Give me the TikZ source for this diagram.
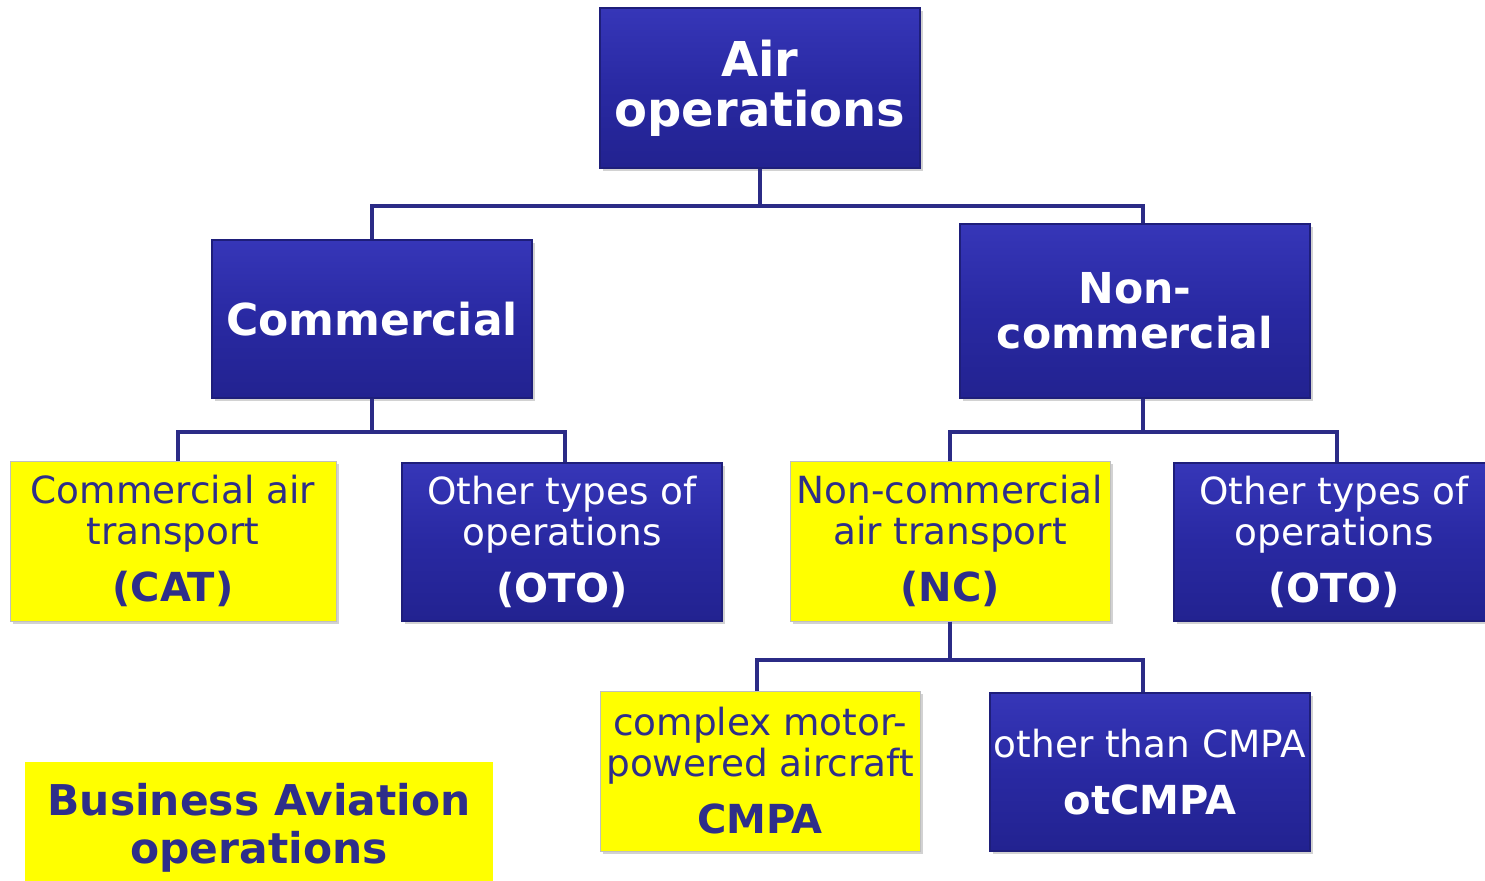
\documentclass[tikz,border=0pt]{standalone}
\usepackage{fontspec}
\setmainfont{DejaVu Sans}
\usetikzlibrary{shadows}

\definecolor{opblue}{HTML}{2929A2}
\definecolor{opdark}{HTML}{222290}
\definecolor{oplight}{HTML}{3636B8}
\definecolor{opedge}{HTML}{1E1E7A}
\definecolor{optext}{HTML}{2E2E8A}
\definecolor{opline}{HTML}{2B2B86}
\definecolor{opyellow}{HTML}{FFFF00}

\tikzset{
  bluebox/.style={draw=opedge, line width=0.6pt, top color=oplight, bottom color=opdark,
    middle color=opblue, text=white, align=center, inner sep=0pt,
    minimum width=160pt, minimum height=79pt,
    drop shadow={shadow xshift=1.5pt, shadow yshift=-1.5pt, opacity=0.35}},
  yellowbox/.style={draw=black!25, line width=0.5pt, fill=opyellow, text=optext, align=center,
    inner sep=0pt, minimum width=160pt, minimum height=80pt,
    drop shadow={shadow xshift=1.5pt, shadow yshift=-1.5pt, opacity=0.35}},
  smalltext/.style={font=\fontsize{18.7}{20.5}\selectfont},
  link/.style={draw=opline, line width=2pt}
}
\newcommand{\codetext}[1]{{\fontsize{20}{20}\selectfont\bfseries #1}}

\begin{document}
\begin{tikzpicture}[x=0.5pt,y=-0.5pt]
  \useasboundingbox[fill=white] (0,0) rectangle (1485,880);

  %TOP LEVEL
  \node[bluebox, font=\fontsize{24}{25}\selectfont\bfseries, minimum height=80pt] (air) at (760,88) {Air\\operations};

  %SECOND LEVEL
  \node[bluebox, font=\fontsize{22}{22}\selectfont\bfseries] (comm) at (372,319) {Commercial};
  \node[bluebox, font=\fontsize{21.3}{22.5}\selectfont\bfseries,
        minimum width=175pt, minimum height=87pt] (noncomm) at (1135,311) {Non-\\commercial};

  %THIRD LEVEL
  \node[yellowbox, smalltext, minimum width=163pt] (cat) at (173,541)
       {Commercial air\\transport\\[8pt]\codetext{(CAT)}};
  \node[bluebox, smalltext] (otoa) at (562,542)
       {Other types of\\operations\\[8pt]\codetext{(OTO)}};
  \node[yellowbox, smalltext] (nc) at (950,541)
       {Non-commercial\\air transport\\[8pt]\codetext{(NC)}};
  \node[bluebox, smalltext] (otob) at (1334,542)
       {Other types of\\operations\\[8pt]\codetext{(OTO)}};

  %FOURTH LEVEL
  \node[yellowbox, smalltext] (cmpa) at (760,771)
       {complex motor-\\powered aircraft\\[8pt]\codetext{CMPA}};
  \node[bluebox, smalltext] (otcmpa) at (1150,772)
       {other than CMPA\\[8pt]\codetext{otCMPA}};

  %LEGEND
  \node[fill=opyellow, text=optext, align=center, inner sep=0pt,
        minimum width=234pt, minimum height=66pt,
        font=\fontsize{21.2}{24}\selectfont\bfseries] (busav) at (259,828)
       {Business Aviation\\operations};

  %CONNECTORS
  \draw[link] (air.south) -- ++(0,37) -| (comm.north);
  \draw[link] (air.south) -- ++(0,37) -| ([xshift=4pt]noncomm.north);
  \draw[link] (comm.south) -- ++(0,33) -| ([xshift=2.5pt]cat.north);
  \draw[link] (comm.south) -- ++(0,33) -| ([xshift=1.5pt]otoa.north);
  \draw[link] ([xshift=4pt]noncomm.south) -- ++(0,33) -| (nc.north);
  \draw[link] ([xshift=4pt]noncomm.south) -- ++(0,33) -| ([xshift=1.5pt]otob.north);
  \draw[link] (nc.south) -- ++(0,38) -| ([xshift=-1.5pt]cmpa.north);
  \draw[link] (nc.south) -- ++(0,38) -| ([xshift=-3.5pt]otcmpa.north);
\end{tikzpicture}
\end{document}
